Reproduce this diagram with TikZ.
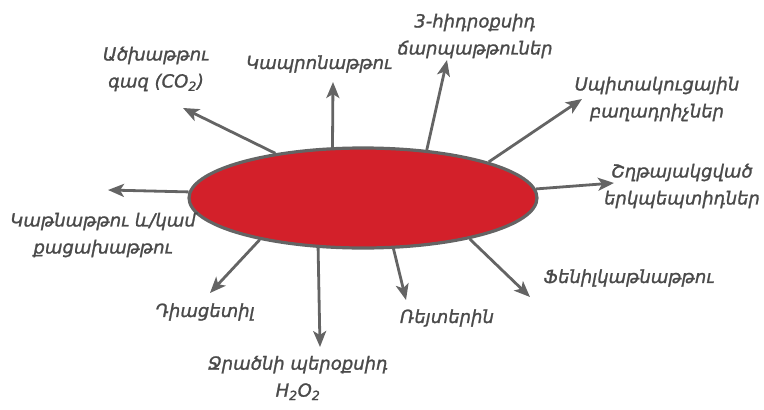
\documentclass[tikz,border=0pt]{standalone}
\usepackage{fontspec}
\setmainfont{DejaVu Sans}
\newfontfamily\lblfont[FakeBold=1.3]{DejaVu Sans}
\usetikzlibrary{shapes.geometric,arrows.meta}
\definecolor{ellred}{HTML}{D3202A}
\definecolor{edgegray}{HTML}{646464}
\definecolor{txtgray}{HTML}{4A4A4A}
\begin{document}
\begin{tikzpicture}[x=1pt,y=-1pt,
  lbl/.style={text=txtgray, font=\lblfont\fontsize{18}{27}\selectfont\itshape, align=center, inner sep=0pt},
  arr/.style={draw=edgegray, line width=2.8pt, -{Stealth[length=16pt,width=13pt,inset=4pt]}},
  cell/.style={ellipse, fill=ellred, draw=edgegray, line width=3.2pt, minimum width=348pt, minimum height=100pt, inner sep=0pt}]
\useasboundingbox (0,0) rectangle (764,410);
\node[cell] (E) at (363,198) {};
% tips
\coordinate (t1) at (183,108);
\coordinate (t2) at (333,82);
\coordinate (t3) at (447,60);
\coordinate (t4) at (582,99);
\coordinate (t5) at (614,183);
\coordinate (t6) at (108,190);
\coordinate (t7) at (210,293);
\coordinate (t8) at (320,347);
\coordinate (t9) at (406,300);
\coordinate (t10) at (530,297);
\draw[arr] (E.153.9) -- (t1);
\draw[arr] (E.121) -- (t2);
\draw[arr] (E.37) -- (t3);
\draw[arr] (E.16.8) -- (t4);
\draw[arr] (E.3) -- (t5);
\draw[arr] (E.178) -- (t6);
\draw[arr] (E.202.9) -- (t7);
\draw[arr] (E.228.4) -- (t8);
\draw[arr] (E.301.4) -- (t9);
\draw[arr] (E.339.2) -- (t10);
% labels
\node[lbl] (l1) at (156,69) {Ածխաթթու\\գազ (CO\textsubscript{2})};
\node[lbl] (l2) at (319,64) {Կապրոնաթթու};
\node[lbl] (l3) at (475,36) {3-հիդրօքսիդ\\ճարպաթթուներ};
\node[lbl] (l4) at (657,99) {Սպիտակուցային\\բաղադրիչներ};
\node[lbl] (l5) at (682,186) {Շղթայակցված\\երկպեպտիդներ};
\node[lbl] (l6) at (103,235) {Կաթնաթթու և/կամ\\քացախաթթու};
\node[lbl] (l7) at (629,278) {Ֆենիլկաթնաթթու};
\node[lbl] (l8) at (447,318) {Ռեյտերին};
\node[lbl] (l9) at (205,312) {Դիացետիլ};
\node[lbl] (l10) at (298,378) {Ջրածնի պերօքսիդ\\H\textsubscript{2}O\textsubscript{2}};
\end{tikzpicture}
\end{document}
